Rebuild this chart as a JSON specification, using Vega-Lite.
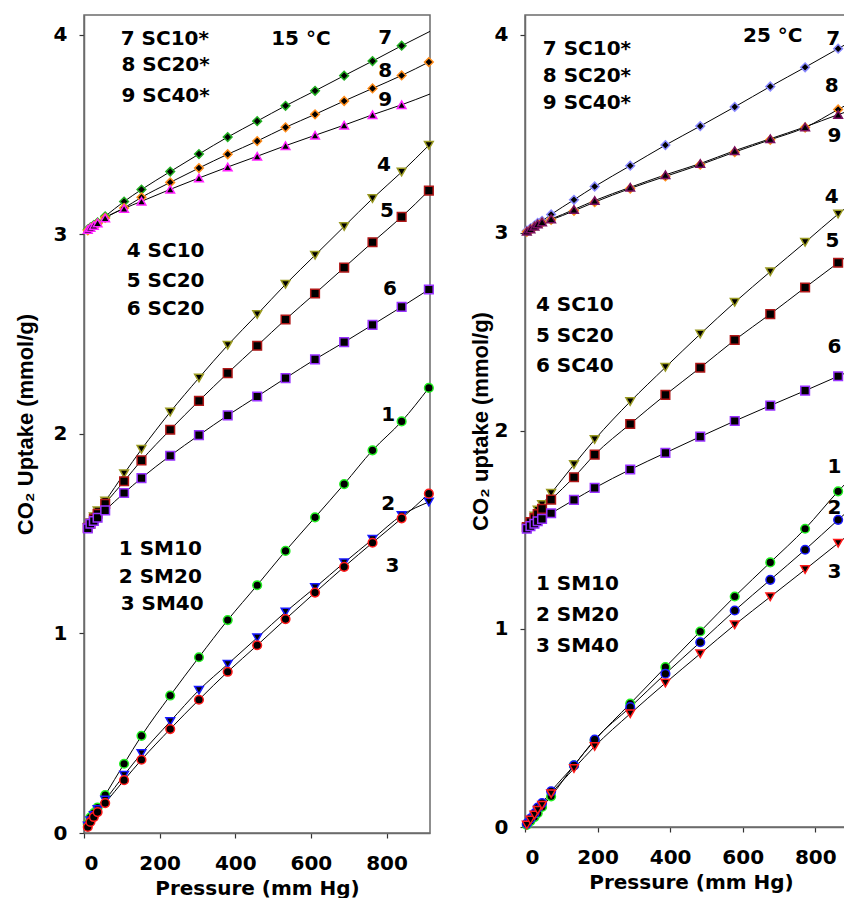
{
  "$schema": "https://vega.github.io/schema/vega-lite/v6.json",
  "background": "white",
  "padding": {"left": 13, "top": 14, "right": 0, "bottom": 0},
  "spacing": 31,
  "config": {
    "view": {"stroke": "#6b6b6b", "strokeWidth": 1.5},
    "axis": {"grid": false, "domainColor": "#6b6b6b", "domainWidth": 1.5, "tickColor": "#333333", "tickSize": 5, "tickWidth": 1.2, "format": "d",
      "labelFont": "DejaVu Sans", "labelFontWeight": "bold", "labelFontSize": 20, "labelColor": "black", "titleColor": "black"},
    "axisX": {"labelPadding": 15, "titleFont": "DejaVu Sans", "titleFontSize": 20, "titleFontWeight": "bold", "titlePadding": 5},
    "axisY": {"labelPadding": 12, "titleFont": "Liberation Sans", "titleFontSize": 22, "titleFontWeight": "bold", "titlePadding": 16}
  },
  "resolve": {"scale": {"x": "independent", "y": "independent", "stroke": "independent", "shape": "independent", "size": "independent"}},
  "datasets": {
    "t15": [
      {"s":"7","p":10,"u":3.025},{"s":"7","p":17,"u":3.035},{"s":"7","p":26,"u":3.047},{"s":"7","p":36,"u":3.06},{"s":"7","p":56,"u":3.091},{"s":"7","p":106,"u":3.165},{"s":"7","p":152,"u":3.225},{"s":"7","p":228,"u":3.315},{"s":"7","p":304,"u":3.403},{"s":"7","p":380,"u":3.488},{"s":"7","p":458,"u":3.568},{"s":"7","p":533,"u":3.645},{"s":"7","p":611,"u":3.72},{"s":"7","p":688,"u":3.796},{"s":"7","p":763,"u":3.869},{"s":"7","p":840,"u":3.946},{"s":"7","p":915,"u":4.018,"k":"fit"},
      {"s":"8","p":10,"u":3.02},{"s":"8","p":17,"u":3.03},{"s":"8","p":26,"u":3.042},{"s":"8","p":36,"u":3.055},{"s":"8","p":56,"u":3.083},{"s":"8","p":106,"u":3.133},{"s":"8","p":152,"u":3.186},{"s":"8","p":228,"u":3.261},{"s":"8","p":304,"u":3.333},{"s":"8","p":380,"u":3.402},{"s":"8","p":458,"u":3.468},{"s":"8","p":533,"u":3.537},{"s":"8","p":611,"u":3.602},{"s":"8","p":688,"u":3.669},{"s":"8","p":763,"u":3.732},{"s":"8","p":840,"u":3.797},{"s":"8","p":912,"u":3.864},
      {"s":"9","p":10,"u":3.025},{"s":"9","p":17,"u":3.035},{"s":"9","p":26,"u":3.045},{"s":"9","p":36,"u":3.058},{"s":"9","p":56,"u":3.083},{"s":"9","p":106,"u":3.13},{"s":"9","p":152,"u":3.166},{"s":"9","p":228,"u":3.226},{"s":"9","p":304,"u":3.283},{"s":"9","p":380,"u":3.338},{"s":"9","p":458,"u":3.392},{"s":"9","p":533,"u":3.445},{"s":"9","p":611,"u":3.497},{"s":"9","p":688,"u":3.548},{"s":"9","p":763,"u":3.6},{"s":"9","p":840,"u":3.65},{"s":"9","p":915,"u":3.704,"k":"fit"},
      {"s":"4","p":10,"u":1.53},{"s":"4","p":17,"u":1.555},{"s":"4","p":26,"u":1.585},{"s":"4","p":36,"u":1.615},{"s":"4","p":56,"u":1.664},{"s":"4","p":106,"u":1.801},{"s":"4","p":152,"u":1.923},{"s":"4","p":228,"u":2.11},{"s":"4","p":304,"u":2.281},{"s":"4","p":380,"u":2.445},{"s":"4","p":458,"u":2.599},{"s":"4","p":533,"u":2.75},{"s":"4","p":611,"u":2.896},{"s":"4","p":688,"u":3.04},{"s":"4","p":763,"u":3.18},{"s":"4","p":840,"u":3.313},{"s":"4","p":912,"u":3.447},
      {"s":"5","p":10,"u":1.53},{"s":"5","p":17,"u":1.55},{"s":"5","p":26,"u":1.575},{"s":"5","p":36,"u":1.6},{"s":"5","p":56,"u":1.65},{"s":"5","p":106,"u":1.763},{"s":"5","p":152,"u":1.868},{"s":"5","p":228,"u":2.021},{"s":"5","p":304,"u":2.166},{"s":"5","p":380,"u":2.305},{"s":"5","p":458,"u":2.442},{"s":"5","p":533,"u":2.574},{"s":"5","p":611,"u":2.704},{"s":"5","p":688,"u":2.834},{"s":"5","p":763,"u":2.961},{"s":"5","p":840,"u":3.088},{"s":"5","p":912,"u":3.22},
      {"s":"6","p":10,"u":1.527},{"s":"6","p":17,"u":1.55},{"s":"6","p":26,"u":1.564},{"s":"6","p":36,"u":1.58},{"s":"6","p":56,"u":1.617},{"s":"6","p":106,"u":1.704},{"s":"6","p":152,"u":1.779},{"s":"6","p":228,"u":1.891},{"s":"6","p":304,"u":1.994},{"s":"6","p":380,"u":2.093},{"s":"6","p":458,"u":2.188},{"s":"6","p":533,"u":2.28},{"s":"6","p":611,"u":2.374},{"s":"6","p":688,"u":2.46},{"s":"6","p":763,"u":2.547},{"s":"6","p":840,"u":2.637},{"s":"6","p":912,"u":2.724},
      {"s":"1","p":10,"u":0.045},{"s":"1","p":17,"u":0.078},{"s":"1","p":26,"u":0.1},{"s":"1","p":36,"u":0.128},{"s":"1","p":56,"u":0.19},{"s":"1","p":106,"u":0.347},{"s":"1","p":152,"u":0.487},{"s":"1","p":228,"u":0.689},{"s":"1","p":304,"u":0.881},{"s":"1","p":380,"u":1.067},{"s":"1","p":458,"u":1.242},{"s":"1","p":533,"u":1.414},{"s":"1","p":611,"u":1.582},{"s":"1","p":688,"u":1.749},{"s":"1","p":763,"u":1.918},{"s":"1","p":840,"u":2.063},{"s":"1","p":912,"u":2.231},
      {"s":"2","p":10,"u":0.035},{"s":"2","p":17,"u":0.062},{"s":"2","p":26,"u":0.088},{"s":"2","p":36,"u":0.118},{"s":"2","p":56,"u":0.165},{"s":"2","p":106,"u":0.29},{"s":"2","p":152,"u":0.399},{"s":"2","p":228,"u":0.559},{"s":"2","p":304,"u":0.716},{"s":"2","p":380,"u":0.846},{"s":"2","p":458,"u":0.979},{"s":"2","p":533,"u":1.108},{"s":"2","p":611,"u":1.23},{"s":"2","p":688,"u":1.355},{"s":"2","p":763,"u":1.472},{"s":"2","p":840,"u":1.592},{"s":"2","p":912,"u":1.659},
      {"s":"3","p":10,"u":0.03},{"s":"3","p":17,"u":0.055},{"s":"3","p":26,"u":0.08},{"s":"3","p":36,"u":0.105},{"s":"3","p":56,"u":0.15},{"s":"3","p":106,"u":0.265},{"s":"3","p":152,"u":0.367},{"s":"3","p":228,"u":0.521},{"s":"3","p":304,"u":0.668},{"s":"3","p":380,"u":0.808},{"s":"3","p":458,"u":0.941},{"s":"3","p":533,"u":1.072},{"s":"3","p":611,"u":1.205},{"s":"3","p":688,"u":1.334},{"s":"3","p":763,"u":1.455},{"s":"3","p":840,"u":1.577},{"s":"3","p":912,"u":1.701}
    ],
    "t25": [
      {"s":"7","p":5,"u":3.011},{"s":"7","p":15,"u":3.022},{"s":"7","p":26,"u":3.036},{"s":"7","p":35,"u":3.05},{"s":"7","p":47,"u":3.061},{"s":"7","p":72,"u":3.093},{"s":"7","p":135,"u":3.167},{"s":"7","p":192,"u":3.234},{"s":"7","p":290,"u":3.339},{"s":"7","p":387,"u":3.443},{"s":"7","p":483,"u":3.539},{"s":"7","p":578,"u":3.636},{"s":"7","p":676,"u":3.739},{"s":"7","p":772,"u":3.836},{"s":"7","p":863,"u":3.93},{"s":"7","p":915,"u":3.984,"k":"fit"},
      {"s":"8","p":5,"u":3.005},{"s":"8","p":15,"u":3.015},{"s":"8","p":26,"u":3.03},{"s":"8","p":35,"u":3.04},{"s":"8","p":47,"u":3.052},{"s":"8","p":72,"u":3.066},{"s":"8","p":135,"u":3.111},{"s":"8","p":192,"u":3.155},{"s":"8","p":290,"u":3.224},{"s":"8","p":387,"u":3.285},{"s":"8","p":483,"u":3.344},{"s":"8","p":578,"u":3.408},{"s":"8","p":676,"u":3.47},{"s":"8","p":772,"u":3.532},{"s":"8","p":863,"u":3.623},{"s":"8","p":915,"u":3.675,"k":"fit"},
      {"s":"9","p":5,"u":3.008},{"s":"9","p":15,"u":3.02},{"s":"9","p":26,"u":3.033},{"s":"9","p":35,"u":3.045},{"s":"9","p":47,"u":3.055},{"s":"9","p":72,"u":3.07},{"s":"9","p":135,"u":3.118},{"s":"9","p":192,"u":3.163},{"s":"9","p":290,"u":3.23},{"s":"9","p":387,"u":3.293},{"s":"9","p":483,"u":3.35},{"s":"9","p":578,"u":3.415},{"s":"9","p":676,"u":3.475},{"s":"9","p":772,"u":3.535},{"s":"9","p":863,"u":3.597},{"s":"9","p":915,"u":3.63,"k":"fit"},
      {"s":"4","p":5,"u":1.51},{"s":"4","p":15,"u":1.54},{"s":"4","p":26,"u":1.57},{"s":"4","p":35,"u":1.6},{"s":"4","p":47,"u":1.628},{"s":"4","p":72,"u":1.685},{"s":"4","p":135,"u":1.83},{"s":"4","p":192,"u":1.956},{"s":"4","p":290,"u":2.148},{"s":"4","p":387,"u":2.321},{"s":"4","p":483,"u":2.489},{"s":"4","p":578,"u":2.649},{"s":"4","p":676,"u":2.804},{"s":"4","p":772,"u":2.952},{"s":"4","p":863,"u":3.095},{"s":"4","p":915,"u":3.17,"k":"fit"},
      {"s":"5","p":5,"u":1.515},{"s":"5","p":15,"u":1.54},{"s":"5","p":26,"u":1.56},{"s":"5","p":35,"u":1.58},{"s":"5","p":47,"u":1.606},{"s":"5","p":72,"u":1.653},{"s":"5","p":135,"u":1.766},{"s":"5","p":192,"u":1.88},{"s":"5","p":290,"u":2.035},{"s":"5","p":387,"u":2.182},{"s":"5","p":483,"u":2.319},{"s":"5","p":578,"u":2.459},{"s":"5","p":676,"u":2.59},{"s":"5","p":772,"u":2.724},{"s":"5","p":863,"u":2.849},{"s":"5","p":915,"u":2.92,"k":"fit"},
      {"s":"6","p":5,"u":1.506},{"s":"6","p":15,"u":1.519},{"s":"6","p":26,"u":1.531},{"s":"6","p":35,"u":1.544},{"s":"6","p":47,"u":1.556},{"s":"6","p":72,"u":1.584},{"s":"6","p":135,"u":1.652},{"s":"6","p":192,"u":1.712},{"s":"6","p":290,"u":1.805},{"s":"6","p":387,"u":1.889},{"s":"6","p":483,"u":1.971},{"s":"6","p":578,"u":2.05},{"s":"6","p":676,"u":2.128},{"s":"6","p":772,"u":2.203},{"s":"6","p":863,"u":2.276},{"s":"6","p":915,"u":2.318,"k":"fit"},
      {"s":"1","p":5,"u":0.01},{"s":"1","p":15,"u":0.03},{"s":"1","p":26,"u":0.05},{"s":"1","p":35,"u":0.07},{"s":"1","p":47,"u":0.101},{"s":"1","p":72,"u":0.155},{"s":"1","p":135,"u":0.311},{"s":"1","p":192,"u":0.437},{"s":"1","p":290,"u":0.623},{"s":"1","p":387,"u":0.807},{"s":"1","p":483,"u":0.987},{"s":"1","p":578,"u":1.164},{"s":"1","p":676,"u":1.336},{"s":"1","p":772,"u":1.506},{"s":"1","p":863,"u":1.695},{"s":"1","p":915,"u":1.794,"k":"fit"},
      {"s":"2","p":5,"u":0.017},{"s":"2","p":15,"u":0.042},{"s":"2","p":26,"u":0.068},{"s":"2","p":35,"u":0.098},{"s":"2","p":47,"u":0.121},{"s":"2","p":72,"u":0.18},{"s":"2","p":135,"u":0.311},{"s":"2","p":192,"u":0.441},{"s":"2","p":290,"u":0.605},{"s":"2","p":387,"u":0.774},{"s":"2","p":483,"u":0.933},{"s":"2","p":578,"u":1.093},{"s":"2","p":676,"u":1.248},{"s":"2","p":772,"u":1.4},{"s":"2","p":863,"u":1.551},{"s":"2","p":915,"u":1.636,"k":"fit"},
      {"s":"3","p":5,"u":0.01},{"s":"3","p":15,"u":0.035},{"s":"3","p":26,"u":0.06},{"s":"3","p":35,"u":0.085},{"s":"3","p":47,"u":0.11},{"s":"3","p":72,"u":0.168},{"s":"3","p":135,"u":0.295},{"s":"3","p":192,"u":0.407},{"s":"3","p":290,"u":0.572},{"s":"3","p":387,"u":0.727},{"s":"3","p":483,"u":0.875},{"s":"3","p":578,"u":1.021},{"s":"3","p":676,"u":1.162},{"s":"3","p":772,"u":1.3},{"s":"3","p":863,"u":1.433},{"s":"3","p":915,"u":1.51,"k":"fit"}
    ],
    "a15": [
      {"t":"7 SC10*","p":97,"u":3.98},{"t":"8 SC20*","p":99,"u":3.851},{"t":"9 SC40*","p":99,"u":3.692},{"t":"15 °C","p":495,"u":3.98},
      {"t":"7","p":778,"u":3.987},{"t":"8","p":778,"u":3.817},{"t":"9","p":778,"u":3.672},{"t":"4","p":775,"u":3.35},{"t":"5","p":783,"u":3.116},{"t":"6","p":791,"u":2.729},
      {"t":"4 SC10","p":113,"u":2.919},{"t":"5 SC20","p":113,"u":2.766},{"t":"6 SC20","p":113,"u":2.624},
      {"t":"1","p":786,"u":2.095},{"t":"2","p":786,"u":1.648},{"t":"3","p":797,"u":1.339},
      {"t":"1 SM10","p":92,"u":1.425},{"t":"2 SM20","p":92,"u":1.285},{"t":"3 SM40","p":97,"u":1.147}
    ],
    "a25": [
      {"t":"25 °C","p":601,"u":3.994},{"t":"7 SC10*","p":49,"u":3.927},{"t":"8 SC20*","p":49,"u":3.793},{"t":"9 SC40*","p":49,"u":3.658},
      {"t":"7","p":830,"u":3.978},{"t":"8","p":826,"u":3.742},{"t":"9","p":834,"u":3.49},{"t":"4","p":826,"u":3.179},{"t":"5","p":828,"u":2.96},{"t":"6","p":834,"u":2.422},
      {"t":"1","p":834,"u":1.816},{"t":"2","p":834,"u":1.611},{"t":"3","p":834,"u":1.287},
      {"t":"4 SC10","p":30,"u":2.637},{"t":"5 SC20","p":30,"u":2.481},{"t":"6 SC40","p":30,"u":2.329},
      {"t":"1 SM10","p":30,"u":1.225},{"t":"2 SM20","p":30,"u":1.068},{"t":"3 SM40","p":30,"u":0.912}
    ]
  },
  "hconcat": [
    {
      "width": 346,
      "height": 818,
      "layer": [
        {
          "data": {"name": "t15"},
          "mark": {"type": "line", "color": "black", "strokeWidth": 1, "interpolate": "monotone", "clip": true},
          "encoding": {
            "x": {"field": "p", "type": "quantitative", "scale": {"domain": [0, 915], "nice": false, "zero": false}, "axis": {"values": [0, 200, 400, 600, 800], "title": "Pressure (mm Hg)"}},
            "y": {"field": "u", "type": "quantitative", "scale": {"domain": [0, 4.1], "nice": false}, "axis": {"values": [0, 1, 2, 3, 4], "title": "CO₂ Uptake (mmol/g)"}},
            "detail": {"field": "s"},
            "order": {"field": "p", "type": "quantitative"}
          }
        },
        {
          "data": {"name": "t15"},
          "transform": [{"filter": "datum.k !== 'fit'"}],
          "mark": {"type": "point", "fill": "black", "opacity": 1, "fillOpacity": 1, "strokeWidth": 1.5},
          "encoding": {
            "x": {"field": "p", "type": "quantitative"},
            "y": {"field": "u", "type": "quantitative"},
            "shape": {"field": "s", "type": "nominal", "legend": null, "scale": {"domain": ["7","8","9","4","5","6","1","2","3"], "range": ["diamond","diamond","triangle-up","triangle-down","square","square","circle","triangle-down","circle"]}},
            "size": {"field": "s", "type": "nominal", "legend": null, "scale": {"domain": ["7","8","9","4","5","6","1","2","3"], "range": [75,75,62,62,45,45,42,62,42]}},
            "stroke": {"field": "s", "type": "nominal", "legend": null, "scale": {"domain": ["7","8","9","4","5","6","1","2","3"], "range": ["#22b022","#ff8c1a","#ff22ff","#9a9a22","#b01818","#9933ff","#22ee22","#1a1aff","#ff1a1a"]}}
          }
        },
        {
          "data": {"name": "a15"},
          "mark": {"type": "text", "align": "left", "baseline": "middle", "font": "DejaVu Sans", "fontWeight": "bold", "fontSize": 20, "color": "black"},
          "encoding": {
            "x": {"field": "p", "type": "quantitative"},
            "y": {"field": "u", "type": "quantitative"},
            "text": {"field": "t"}
          }
        }
      ]
    },
    {
      "width": 332,
      "height": 812,
      "layer": [
        {
          "data": {"name": "t25"},
          "mark": {"type": "line", "color": "black", "strokeWidth": 1, "interpolate": "monotone", "clip": true},
          "encoding": {
            "x": {"field": "p", "type": "quantitative", "scale": {"domain": [0, 915], "nice": false, "zero": false}, "axis": {"values": [0, 200, 400, 600, 800], "title": "Pressure (mm Hg)"}},
            "y": {"field": "u", "type": "quantitative", "scale": {"domain": [0, 4.1], "nice": false}, "axis": {"values": [0, 1, 2, 3, 4], "title": "CO₂ uptake (mmol/g)", "titlePadding": 2}},
            "detail": {"field": "s"},
            "order": {"field": "p", "type": "quantitative"}
          }
        },
        {
          "data": {"name": "t25"},
          "transform": [{"filter": "datum.k !== 'fit'"}],
          "mark": {"type": "point", "fill": "black", "opacity": 1, "fillOpacity": 1, "strokeWidth": 1.5},
          "encoding": {
            "x": {"field": "p", "type": "quantitative"},
            "y": {"field": "u", "type": "quantitative"},
            "shape": {"field": "s", "type": "nominal", "legend": null, "scale": {"domain": ["7","8","9","4","5","6","1","2","3"], "range": ["diamond","diamond","triangle-up","triangle-down","square","square","circle","circle","triangle-down"]}},
            "size": {"field": "s", "type": "nominal", "legend": null, "scale": {"domain": ["7","8","9","4","5","6","1","2","3"], "range": [75,75,62,62,45,45,42,42,62]}},
            "stroke": {"field": "s", "type": "nominal", "legend": null, "scale": {"domain": ["7","8","9","4","5","6","1","2","3"], "range": ["#8888ff","#ff8c1a","#7a1060","#9a9a22","#b01818","#9933ff","#22ee22","#1a1aff","#ff1a1a"]}}
          }
        },
        {
          "data": {"name": "a25"},
          "mark": {"type": "text", "align": "left", "baseline": "middle", "font": "DejaVu Sans", "fontWeight": "bold", "fontSize": 20, "color": "black"},
          "encoding": {
            "x": {"field": "p", "type": "quantitative"},
            "y": {"field": "u", "type": "quantitative"},
            "text": {"field": "t"}
          }
        }
      ]
    }
  ]
}
